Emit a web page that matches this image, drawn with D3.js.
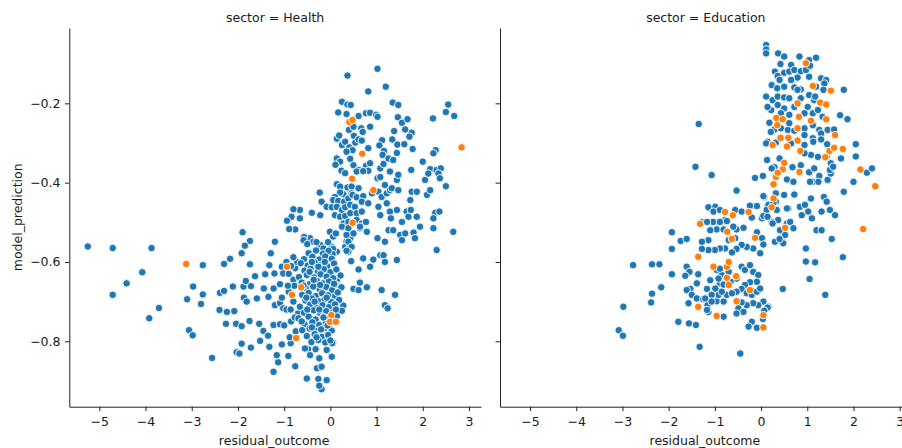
<!DOCTYPE html>
<html>
<head>
<meta charset="utf-8">
<script src="https://cdn.jsdelivr.net/npm/d3@7"></script>
<style>
  body { margin: 0; background: #fff; }
  text { font-family: "DejaVu Sans", sans-serif; }
</style>
</head>
<body>
<svg id="chart" width="902" height="448"></svg>
<script>
// residual_outcome, model_prediction
const healthBlue = [
  [0.37,-0.13],[1.02,-0.113],[0.82,-0.17],[1.20,-0.158],[0.25,-0.196],[0.37,-0.203],[0.44,-0.204],[0.17,-0.223],
  [0.35,-0.227],[0.61,-0.232],[0.77,-0.225],[0.86,-0.224],[0.99,-0.229],[1.02,-0.234],[1.35,-0.198],[1.47,-0.204],
  [1.46,-0.235],[1.55,-0.249],[1.67,-0.240],[1.62,-0.266],[1.76,-0.274],[1.71,-0.284],[1.38,-0.270],[1.34,-0.291],
  [1.45,-0.304],[1.60,-0.303],[1.78,-0.315],[2.55,-0.203],[2.50,-0.222],[2.68,-0.232],[2.22,-0.238],[0.40,-0.267],
  [0.50,-0.259],[0.67,-0.263],[0.70,-0.272],[0.86,-0.259],[0.14,-0.289],[0.19,-0.281],[0.25,-0.305],[0.32,-0.297],
  [0.41,-0.311],[0.51,-0.282],[0.54,-0.299],[0.61,-0.291],[0.68,-0.294],[0.48,-0.318],[0.35,-0.322],[1.12,-0.293],
  [1.06,-0.306],[1.16,-0.320],[1.13,-0.330],[1.26,-0.339],[1.44,-0.325],[1.36,-0.343],[0.82,-0.313],[0.14,-0.339],
  [0.21,-0.347],[0.11,-0.355],[0.24,-0.37],[0.43,-0.34],[0.50,-0.356],[0.61,-0.368],[0.77,-0.358],[0.86,-0.351],
  [0.82,-0.37],[1.08,-0.364],[1.15,-0.353],[1.75,-0.368],[2.0,-0.347],[2.16,-0.366],[2.30,-0.368],[2.39,-0.364],
  [2.28,-0.318],[2.23,-0.326],[0.32,-0.376],[0.57,-0.372],[0.71,-0.371],[1.02,-0.389],[1.08,-0.386],[1.29,-0.372],
  [1.44,-0.393],[1.47,-0.38],[2.05,-0.393],[2.12,-0.377],[2.34,-0.377],[2.37,-0.389],[2.50,-0.409],
  [0.14,-0.404],[0.21,-0.41],[0.37,-0.412],[0.46,-0.41],[0.61,-0.414],[0.46,-0.427],[0.28,-0.429],[0.21,-0.425],
  [0.10,-0.436],[0.06,-0.444],[0.17,-0.446],[0.30,-0.448],[0.39,-0.44],[0.48,-0.431],[0.57,-0.437],[0.71,-0.434],
  [0.68,-0.448],[0.82,-0.452],[0.90,-0.427],[1.04,-0.423],[1.11,-0.436],[1.18,-0.406],[1.22,-0.427],[1.29,-0.419],
  [1.33,-0.414],[1.47,-0.419],[1.76,-0.423],[1.87,-0.423],[1.73,-0.444],[2.09,-0.431],[2.16,-0.419],
  [-0.23,-0.425],[-0.19,-0.448],[-0.08,-0.461],[0.03,-0.462],[-0.22,-0.482],[-0.40,-0.476],[-0.66,-0.469],[-0.80,-0.467],
  [-0.84,-0.486],[-0.76,-0.518],[-0.58,-0.536],[-0.44,-0.54],[-0.37,-0.549],[-0.22,-0.557],[-0.15,-0.566],[-0.94,-0.496],
  [-0.66,-0.49],[0.14,-0.461],[0.25,-0.469],[0.32,-0.462],[0.43,-0.456],[0.53,-0.461],[0.10,-0.482],[0.21,-0.486],
  [0.32,-0.484],[0.43,-0.477],[0.57,-0.477],[0.68,-0.473],[0.28,-0.503],[0.39,-0.499],[0.57,-0.494],[0.68,-0.503],
  [0.77,-0.499],[0.79,-0.524],[0.64,-0.515],[0.46,-0.528],[0.43,-0.54],[0.35,-0.549],[0.32,-0.562],[0.41,-0.566],
  [-0.01,-0.524],[0.06,-0.536],[0.03,-0.562],[0.14,-0.574],[0.03,-0.587],[1.04,-0.461],[1.08,-0.482],[1.22,-0.452],
  [1.29,-0.473],[1.31,-0.49],[1.44,-0.469],[1.55,-0.499],[1.65,-0.473],[1.69,-0.486],[1.74,-0.469],[1.87,-0.486],
  [1.94,-0.511],[2.27,-0.476],[2.36,-0.473],[2.23,-0.49],[2.66,-0.524],[2.30,-0.57],[1.26,-0.52],[1.36,-0.52],
  [1.51,-0.532],[1.55,-0.545],[1.62,-0.528],[1.80,-0.526],[1.83,-0.54],[2.23,-0.515],[1.02,-0.54],[1.18,-0.549],
  [1.08,-0.583],[1.15,-0.583],[1.18,-0.60],[1.44,-0.595],[0.71,-0.591],[0.93,-0.594],[0.61,-0.619],[0.86,-0.612],
  [0.12,-0.528],[0.25,-0.511],[0.39,-0.515],[0.35,-0.532],[0.50,-0.528],[0.39,-0.549],[0.46,-0.562],[0.39,-0.574],
  [0.64,-0.511],[0.45,-0.598],[0.50,-0.668],[0.61,-0.671],[0.79,-0.664],[0.64,-0.652],[1.11,-0.671],[1.40,-0.683],
  [1.18,-0.709],[1.24,-0.717],[0.06,-0.567],[0.35,-0.572],[0.14,-0.646],[0.10,-0.685],[0.28,-0.71],[0.25,-0.723],
  [0.06,-0.803],[0.03,-0.839],
  [-5.25,-0.561],[-4.71,-0.565],[-3.87,-0.565],[-4.07,-0.626],[-4.41,-0.654],[-4.71,-0.683],[-3.71,-0.716],[-3.92,-0.742],
  [-3.06,-0.772],[-2.98,-0.785],[-3.10,-0.694],[-2.76,-0.608],[-2.97,-0.662],[-2.76,-0.682],[-2.80,-0.706],[-2.56,-0.842],
  [-2.40,-0.721],[-2.39,-0.678],[-2.30,-0.673],[-2.11,-0.662],[-2.30,-0.605],[-2.17,-0.592],[-1.92,-0.578],[-1.90,-0.525],
  [-1.74,-0.547],[-1.85,-0.559],[-1.29,-0.578],[-1.20,-0.549],[-0.89,-0.517],[-0.57,-0.537],[-1.74,-0.606],[-1.32,-0.608],
  [-1.05,-0.612],[-0.76,-0.616],[-2.24,-0.726],[-2.08,-0.724],[-1.88,-0.662],[-1.72,-0.661],[-1.83,-0.648],[-1.63,-0.636],
  [-1.44,-0.667],[-1.21,-0.629],[-1.41,-0.631],[-1.87,-0.690],[-1.81,-0.700],[-1.59,-0.692],[-1.34,-0.688],[-1.23,-0.667],
  [-1.09,-0.656],[-1.02,-0.629],[-2.26,-0.756],[-2.04,-0.756],[-1.92,-0.762],[-1.75,-0.749],[-1.54,-0.756],[-1.45,-0.774],
  [-1.35,-0.786],[-1.52,-0.799],[-1.23,-0.759],[-1.09,-0.757],[-1.20,-0.709],[-1.09,-0.704],[-1.02,-0.717],[-1.92,-0.806],
  [-2.03,-0.828],[-1.97,-0.831],[-1.72,-0.816],[-1.32,-0.814],[-1.05,-0.808],[-0.86,-0.805],[-1.16,-0.835],[-0.91,-0.837],
  [-1.13,-0.853],[-1.23,-0.877],[-0.76,-0.863],[-0.51,-0.894],[-0.29,-0.868],[-0.48,-0.82],[-0.55,-0.818],[-0.44,-0.835],
  [-0.32,-0.82],[-0.24,-0.843],[-0.08,-0.822],[-0.19,-0.864],[0.04,-0.805],[-0.26,-0.895],[-0.08,-0.898],[-0.19,-0.921],
  [-0.24,-0.912],
  [-0.9,-0.63],[-0.8,-0.70],[-0.95,-0.72],[-0.85,-0.75],[-0.75,-0.775],[-1.0,-0.76],[-0.9,-0.675],[-0.8,-0.645],
  [-1.05,-0.69],[-0.7,-0.73],[-0.88,-0.79],[-0.95,-0.6],[-0.72,-0.6],[-0.8,-0.588],
  [-0.85,-0.61],[-0.78,-0.66],[-0.86,-0.72],[-0.77,-0.74],[-0.92,-0.66],
  [-0.58,-0.545],[-0.5,-0.555],[-0.3,-0.55],[-0.05,-0.55],[0.05,-0.58],
  [-0.47,-0.578],[-0.31,-0.571],[-0.16,-0.579],[-0.04,-0.572],
  [-0.57,-0.593],[-0.39,-0.587],[-0.24,-0.594],[-0.11,-0.586],[0.03,-0.592],
  [-0.64,-0.603],[-0.49,-0.609],[-0.34,-0.601],[-0.19,-0.607],[-0.07,-0.611],[0.08,-0.604],
  [-0.56,-0.622],[-0.43,-0.617],[-0.27,-0.624],[-0.14,-0.618],[0.0,-0.626],[0.13,-0.619],
  [-0.68,-0.638],[-0.51,-0.633],[-0.35,-0.639],[-0.21,-0.631],[-0.08,-0.637],[0.06,-0.641],[0.22,-0.634],
  [-0.62,-0.652],[-0.45,-0.656],[-0.29,-0.648],[-0.16,-0.654],[-0.03,-0.649],[0.11,-0.657],
  [-0.53,-0.667],[-0.37,-0.662],[-0.23,-0.669],[-0.09,-0.663],[0.04,-0.671],[0.24,-0.664],
  [-0.61,-0.683],[-0.47,-0.678],[-0.31,-0.686],[-0.18,-0.679],[-0.05,-0.684],[0.16,-0.677],
  [-0.54,-0.697],[-0.4,-0.692],[-0.25,-0.699],[-0.12,-0.694],[0.02,-0.701],[0.19,-0.696],
  [-0.66,-0.713],[-0.44,-0.708],[-0.3,-0.715],[-0.17,-0.709],[-0.03,-0.714],[0.1,-0.707],
  [-0.57,-0.728],[-0.36,-0.722],[-0.22,-0.729],[-0.09,-0.724],[0.06,-0.727],
  [-0.69,-0.742],[-0.47,-0.738],[-0.32,-0.745],[-0.15,-0.739],[-0.02,-0.743],[0.14,-0.737],
  [-0.56,-0.757],[-0.39,-0.752],[-0.24,-0.759],[-0.1,-0.754],
  [-0.61,-0.772],[-0.45,-0.768],[-0.29,-0.774],[-0.13,-0.767],[0.03,-0.773],
  [-0.51,-0.787],[-0.34,-0.782],[-0.19,-0.789],[-0.05,-0.784],
  [-0.41,-0.802],[-0.26,-0.797],[-0.11,-0.803],[0.0,-0.798],
  [-0.4,-0.6],[-0.26,-0.612],[-0.12,-0.6],[-0.36,-0.645],[-0.22,-0.658],[-0.52,-0.69],[-0.34,-0.7],[-0.08,-0.69],
  [-0.24,-0.72],[-0.5,-0.72],[-0.4,-0.765],[-0.2,-0.77],[-0.06,-0.76],[-0.3,-0.79],[-0.58,-0.66],[0.08,-0.655],
  [0.12,-0.72],[-0.45,-0.625],[-0.15,-0.74],[-0.62,-0.75]
];
const healthOrange = [
  [0.41,-0.247],[0.48,-0.242],[0.69,-0.327],[2.84,-0.311],[0.47,-0.39],[0.93,-0.419],[0.48,-0.501],[-3.12,-0.605],
  [-0.94,-0.612],[-0.63,-0.664],[-0.83,-0.683],[-0.74,-0.792],[0.02,-0.734],[-0.01,-0.751],[0.12,-0.751]
];
const eduBlue = [
  [0.11,-0.053],[0.11,-0.064],[0.11,-0.074],[0.37,-0.074],[0.50,-0.082],[0.83,-0.082],[1.04,-0.091],[1.19,-0.085],
  [0.42,-0.101],[0.65,-0.103],[0.30,-0.120],[0.36,-0.131],[0.50,-0.123],[0.61,-0.120],[0.72,-0.116],[0.86,-0.119],
  [0.97,-0.116],[0.79,-0.135],[0.65,-0.141],[0.40,-0.141],[0.23,-0.154],[0.35,-0.162],[0.50,-0.158],[0.72,-0.16],
  [0.86,-0.165],[1.04,-0.133],[1.30,-0.137],[1.41,-0.141],[1.37,-0.150],[1.79,-0.166],[1.19,-0.158],[0.79,-0.166],
  [0.11,-0.183],[0.25,-0.192],[0.36,-0.183],[0.50,-0.185],[0.61,-0.187],[0.86,-0.187],[1.04,-0.179],[1.15,-0.192],
  [1.01,-0.209],[0.72,-0.209],[0.50,-0.213],[0.36,-0.204],[0.22,-0.217],[0.43,-0.225],[0.61,-0.229],[0.94,-0.225],
  [1.12,-0.225],[1.23,-0.217],[1.33,-0.234],[1.71,-0.23],[1.87,-0.24],[-1.35,-0.252],
  [0.18,-0.249],[0.29,-0.266],[0.43,-0.263],[0.58,-0.267],[0.72,-0.269],[0.94,-0.263],[1.12,-0.255],[1.26,-0.267],
  [1.44,-0.267],[1.58,-0.266],[1.30,-0.276],[0.94,-0.28],[0.61,-0.25],
  [0.14,-0.297],[0.32,-0.299],[0.65,-0.301],[0.94,-0.305],[1.12,-0.288],[1.30,-0.291],[1.43,-0.303],[2.05,-0.303],
  [2.05,-0.334],[1.73,-0.339],[1.51,-0.351],[1.08,-0.33],[1.23,-0.335],[0.94,-0.326],
  [2.29,-0.375],[2.40,-0.364],[2.00,-0.398],[1.79,-0.423],[-1.42,-0.36],[-1.07,-0.381],[-0.53,-0.42],[-0.13,-0.388],
  [0.04,-0.383],[0.13,-0.343],[0.29,-0.361],[0.40,-0.339],[0.68,-0.361],[0.86,-0.356],[1.04,-0.374],[1.15,-0.364],
  [1.26,-0.383],[1.12,-0.398],[1.44,-0.393],[1.51,-0.377],[1.36,-0.436],[1.08,-0.44],[0.72,-0.43],[0.50,-0.431],
  [0.32,-0.427],[0.07,-0.436],[0.14,-0.459],[0.32,-0.448],
  [0.23,-0.364],[0.56,-0.392],[0.70,-0.398],[1.06,-0.398],[1.24,-0.398],[1.42,-0.335],[1.49,-0.368],[1.56,-0.36],
  [-1.14,-0.462],[-0.99,-0.461],[-1.03,-0.473],[-0.89,-0.469],[-0.78,-0.494],[-0.92,-0.499],[-1.04,-0.499],[-0.96,-0.518],
  [-1.10,-0.52],[-0.81,-0.518],[-0.53,-0.518],[-0.38,-0.514],[-0.20,-0.459],[-0.09,-0.459],[0.05,-0.434],[0.16,-0.456],
  [0.27,-0.45],[0.34,-0.469],[0.09,-0.482],[0.02,-0.49],[0.23,-0.499],[0.37,-0.494],[0.41,-0.52],[0.56,-0.503],
  [0.63,-0.499],[0.45,-0.54],[0.52,-0.532],[0.59,-0.465],[0.84,-0.461],[0.95,-0.456],[0.88,-0.482],[1.02,-0.473],
  [1.10,-0.49],[1.31,-0.473],[1.49,-0.469],[1.60,-0.482],[1.42,-0.448],[1.20,-0.52],[1.31,-0.52],[1.53,-0.542],
  [0.97,-0.566],
  [-2.77,-0.608],[-2.36,-0.606],[-2.20,-0.606],[-1.93,-0.631],[-2.16,-0.664],[-2.36,-0.68],[-2.38,-0.702],[-2.98,-0.713],
  [-3.08,-0.772],[-2.99,-0.786],[-1.79,-0.751],[-1.56,-0.755],[-1.41,-0.759],[-1.33,-0.814],[-0.45,-0.831],[-1.93,-0.525],
  [-1.74,-0.547],[-1.61,-0.542],[-1.93,-0.567],
  [-1.61,-0.612],[-1.55,-0.625],[-1.64,-0.635],[-1.36,-0.631],[-1.39,-0.654],[-1.53,-0.668],[-1.61,-0.671],[-1.50,-0.683],
  [-1.57,-0.704],[-1.39,-0.692],[-1.25,-0.694],[-1.16,-0.709],[-1.14,-0.726],[-0.96,-0.699],[-0.92,-0.683],[-0.81,-0.738],
  [-1.17,-0.668],[-1.10,-0.646],[-0.89,-0.654],[-0.85,-0.633],[-0.96,-0.62],
  [-0.56,-0.469],[-0.42,-0.473],[-0.24,-0.458],[0.12,-0.469],[0.56,-0.465],[0.05,-0.484],[0.25,-0.503],[0.70,-0.515],
  [0.30,-0.549],[0.14,-0.486],[-1.28,-0.50],[-1.17,-0.499],[-0.89,-0.499],[-0.74,-0.497],[-0.60,-0.511],[-0.70,-0.545],
  [-0.56,-0.54],[-0.20,-0.488],[-0.09,-0.525],[0.02,-0.54],[0.05,-0.556],[-0.02,-0.578],[-0.17,-0.566],[-0.31,-0.562],
  [-0.42,-0.557],[-0.53,-0.567],[-0.63,-0.576],[-0.78,-0.566],[-0.89,-0.566],[-1.00,-0.57],[-1.14,-0.57],[-1.28,-0.567],
  [-1.14,-0.545],[-1.28,-0.549],
  [-0.89,-0.617],[-0.70,-0.625],[-0.53,-0.642],[-0.42,-0.612],[-0.35,-0.62],[-0.24,-0.608],[-0.17,-0.625],[-0.06,-0.633],
  [-0.09,-0.65],[-0.24,-0.651],[-0.35,-0.658],[-0.42,-0.668],[-0.31,-0.679],[-0.20,-0.683],[-0.09,-0.675],[-0.02,-0.667],
  [0.05,-0.70],[0.16,-0.713],[-0.06,-0.709],[-0.17,-0.704],[-0.31,-0.709],[-0.42,-0.702],[-0.49,-0.717],[-0.38,-0.726],
  [-0.53,-0.73],[-0.81,-0.70],[-0.74,-0.683],[-0.85,-0.675],[-0.99,-0.667],[-1.07,-0.683],[-1.21,-0.692],[-1.07,-0.70],
  [-1.17,-0.721],[-0.20,-0.751],[-0.09,-0.766],[-0.27,-0.763],[-0.53,-0.675],[-0.63,-0.679],[-0.66,-0.65],[-0.81,-0.657],
  [-0.92,-0.642],
  [0.97,-0.599],[1.17,-0.601],[1.05,-0.643],[1.77,-0.588],[1.39,-0.683],[0.47,-0.668],[0.48,-0.553],[0.40,-0.542],
  [0.14,-0.715],[0.07,-0.723],[0.04,-0.744],
  [0.14,-0.209],[0.11,-0.301],[0.21,-0.272],[1.06,-0.105],[1.35,-0.166],[1.17,-0.183],[1.13,-0.297]
];
const eduOrange = [
  [0.97,-0.099],[1.12,-0.156],[1.51,-0.168],[0.79,-0.20],[1.28,-0.198],[1.41,-0.203],[0.33,-0.237],[0.47,-0.240],
  [0.82,-0.234],[1.08,-0.244],[1.41,-0.24],[0.35,-0.255],[0.79,-0.263],[1.60,-0.28],[0.42,-0.287],[0.59,-0.287],
  [0.79,-0.294],[0.25,-0.305],[0.56,-0.309],[0.85,-0.32],[1.48,-0.32],[1.58,-0.312],[1.77,-0.315],[1.39,-0.336],
  [2.15,-0.367],[2.47,-0.409],[0.32,-0.386],[0.47,-0.366],[0.50,-0.350],[0.36,-0.375],[0.83,-0.373],[0.27,-0.404],
  [0.27,-0.44],[0.23,-0.462],[-0.78,-0.474],[-0.61,-0.482],[-0.27,-0.474],[-1.32,-0.504],[0.52,-0.514],[2.21,-0.517],
  [-0.73,-0.524],[-0.63,-0.542],[-0.13,-0.539],[-1.36,-0.587],[-1.03,-0.612],[-0.74,-0.612],[-0.70,-0.60],[-0.74,-0.64],
  [-0.54,-0.636],[-0.70,-0.658],[-0.24,-0.671],[-0.53,-0.699],[-1.36,-0.713],[-0.96,-0.736],[0.05,-0.734],[0.05,-0.765]
];

const xTicks = [-5, -4, -3, -2, -1, 0, 1, 2, 3];
const yTicks = [-0.8, -0.6, -0.4, -0.2];
const blue = "#1f77b4", orange = "#ff7f0e";

const panels = [
  { title: "sector = Health", blue: healthBlue, orange: healthOrange, x0: 69.3, labels: true },
  { title: "sector = Education", blue: eduBlue, orange: eduOrange, x0: 500, labels: false }
];
const panelW = 411.7, plotTop = 28, plotBottom = 406.7;

const svg = d3.select("#chart");

const y = d3.scaleLinear().domain([-0.965, -0.01]).range([plotBottom, plotTop]);

panels.forEach(function(p) {
  const x = d3.scaleLinear().domain([-5.65, 3.26]).range([p.x0, p.x0 + panelW]);
  const g = svg.append("g");

  const xa = g.append("g")
    .attr("transform", "translate(0," + plotBottom + ")")
    .call(d3.axisBottom(x).tickValues(xTicks).tickSize(4.4).tickPadding(6).tickSizeOuter(0).tickFormat(d3.format("d")));
  const ya = g.append("g")
    .attr("transform", "translate(" + p.x0 + ",0)")
    .call(d3.axisLeft(y).tickValues(yTicks).tickSize(4.4).tickPadding(4.4).tickSizeOuter(0)
      .tickFormat(p.labels ? d3.format(".1f") : ""));
  [xa, ya].forEach(function(a) {
    a.selectAll("text").attr("font-size", "12.5px").attr("font-family", "DejaVu Sans").attr("fill", "#1a1a1a");
    a.selectAll("line, path").attr("stroke", "#222").attr("stroke-width", 1);
  });

  g.append("g").selectAll("circle")
    .data(p.blue.map(d => [d, blue]).concat(p.orange.map(d => [d, orange])))
    .enter().append("circle")
    .attr("cx", d => x(d[0][0]))
    .attr("cy", d => y(d[0][1]))
    .attr("r", 3.75)
    .attr("fill", d => d[1])
    .attr("stroke", "#fff")
    .attr("stroke-width", 0.9);

  g.append("text")
    .attr("x", p.x0 + panelW / 2).attr("y", 21.5)
    .attr("text-anchor", "middle").attr("font-size", "12.5px").attr("fill", "#1a1a1a")
    .text(p.title);

  g.append("text")
    .attr("x", p.x0 + panelW / 2 - 1).attr("y", 444.5)
    .attr("text-anchor", "middle").attr("font-size", "12.5px").attr("fill", "#1a1a1a")
    .text("residual_outcome");
});

svg.append("text")
  .attr("transform", "translate(21.5," + (plotTop + plotBottom) / 2 + ") rotate(-90)")
  .attr("text-anchor", "middle").attr("font-size", "12.5px").attr("fill", "#1a1a1a")
  .text("model_prediction");
</script>
</body>
</html>
